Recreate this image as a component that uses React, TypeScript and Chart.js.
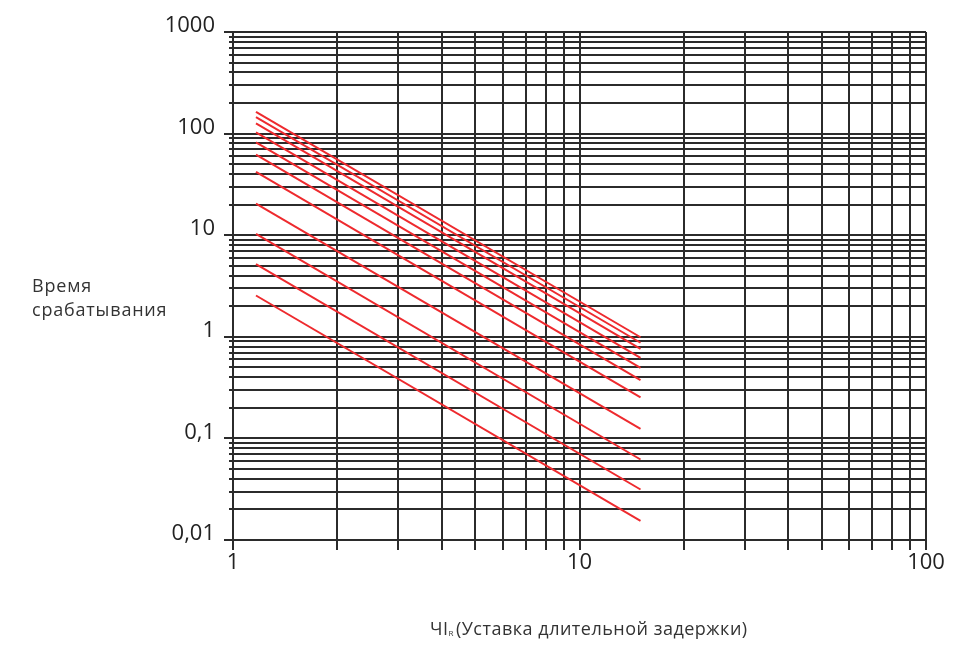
import React, { useEffect, useRef } from "react";
import { Chart, registerables } from "chart.js";

Chart.register(...registerables);

// Curve end points (straight lines on log-log axes)
const xStart = 1.165;
const xEnd = 15;
const startTimes = [164, 145, 126, 103, 82, 62, 42, 20.5, 10.3, 5.2, 2.55];
const endTimes = [0.99, 0.874, 0.76, 0.621, 0.494, 0.374, 0.253, 0.124, 0.062, 0.0314, 0.0154];

const yMajor = [0.01, 0.1, 1, 10, 100, 1000];
const yMajorLabels = ["0,01", "0,1", "1", "10", "100", "1000"];
const xMajor = [1, 10, 100];
const xMajorLabels = ["1", "10", "100"];
const multipliers = [1, 2, 3, 4, 5, 6, 7, 8, 9];

const yTitle = ["Время", "срабатывания"];
const xTitleMain = "ЧI";
const xTitleSub = "R";
const xTitleRest = "(Уставка длительной задержки)";

const GRID = "#2b2b2b";

function gridValues(majors: number[]) {
  const out: number[] = [];
  for (let i = 0; i < majors.length; i++) {
    if (i === majors.length - 1) {
      out.push(majors[i]);
    } else {
      for (const m of multipliers) out.push(majors[i] * m);
    }
  }
  return out;
}

function majorIndex(v: number, majors: number[]) {
  for (let i = 0; i < majors.length; i++) {
    if (Math.abs(v / majors[i] - 1) < 1e-6) return i;
  }
  return -1;
}

function labelFor(v: number, majors: number[], labels: string[]) {
  const i = majorIndex(v, majors);
  return i >= 0 ? labels[i] : "";
}

const titlePlugin = {
  id: "titles",
  afterDraw(chart: any) {
    const ctx = chart.ctx;
    ctx.save();
    // minor y ticks (short)
    const ys = chart.scales.y;
    const left = chart.chartArea.left;
    ctx.strokeStyle = GRID;
    ctx.lineWidth = 2;
    for (const t of ys.ticks) {
      if (majorIndex(t.value, yMajor) >= 0) continue;
      const py = Math.round(ys.getPixelForValue(t.value));
      ctx.beginPath();
      ctx.moveTo(left - 4, py);
      ctx.lineTo(left, py);
      ctx.stroke();
    }
    ctx.fillStyle = "#333";
    ctx.textBaseline = "middle";
    ctx.textAlign = "left";
    ctx.font = "18px 'Open Sans'";
    try { (ctx as any).letterSpacing = "0.8px"; } catch (e) {}
    ctx.fillText(yTitle[0], 32, 287);
    ctx.fillText(yTitle[1], 32, 311);
    // x title
    let x = 430;
    const y = 630;
    try { (ctx as any).letterSpacing = "0.5px"; } catch (e) {}
    ctx.font = "18px 'Open Sans'";
    ctx.fillText(xTitleMain, x, y);
    x += ctx.measureText(xTitleMain).width;
    ctx.font = "8px 'Open Sans'";
    ctx.fillText(xTitleSub, x, y + 4);
    x += ctx.measureText(xTitleSub).width + 2;
    ctx.font = "18px 'Open Sans'";
    ctx.fillText(xTitleRest, x, y);
    ctx.restore();
  },
};

export default function App() {
  const ref = useRef<HTMLCanvasElement | null>(null);
  useEffect(() => {
    if (!ref.current) return;
    const datasets = startTimes.map((s, i) => ({
      label: "curve " + (i + 1),
      data: [
        { x: xStart, y: s },
        { x: xEnd, y: endTimes[i] },
      ],
      borderColor: "#ee2a2e",
      backgroundColor: "#ee2a2e",
      borderWidth: 2,
      pointRadius: 0,
      fill: false,
    }));
    const yGrid = gridValues(yMajor);
    const xGrid = gridValues(xMajor);
    const chart = new Chart(ref.current, {
      type: "line",
      data: { datasets },
      plugins: [titlePlugin],
      options: {
        animation: false,
        responsive: false,
        maintainAspectRatio: false,
        layout: { padding: { left: 0, top: 32, right: 40, bottom: 0 } },
        plugins: { legend: { display: false }, tooltip: { enabled: false }, title: { display: false } },
        scales: {
          x: {
            type: "logarithmic",
            min: 1,
            max: 100,
            afterBuildTicks: (scale: any) => {
              scale.ticks = xGrid.map((v) => ({ value: v }));
            },
            afterFit: (scale: any) => {
              scale.height = 106;
            },
            border: { display: false },
            grid: {
              color: GRID,
              lineWidth: 2,
              tickLength: 10,
              tickColor: GRID,
              tickWidth: 2,
            },
            ticks: {
              autoSkip: false,
              maxRotation: 0,
              padding: 0,
              color: "#222",
              font: { family: "'Open Sans'", size: 22 },
              callback: (v: any) => labelFor(Number(v), xMajor, xMajorLabels),
            },
          },
          y: {
            type: "logarithmic",
            min: 0.01,
            max: 1000,
            afterBuildTicks: (scale: any) => {
              scale.ticks = yGrid.map((v) => ({ value: v }));
            },
            afterFit: (scale: any) => {
              scale.width = 233;
            },
            border: { display: false },
            grid: {
              color: GRID,
              lineWidth: 2,
              tickLength: 9,
              tickColor: (c: any) =>
                c.tick && majorIndex(c.tick.value, yMajor) >= 0 ? GRID : "rgba(0,0,0,0)",
              tickWidth: 2,
            },
            ticks: {
              autoSkip: false,
              padding: 9,
              labelOffset: -6,
              color: "#222",
              font: { family: "'Open Sans'", size: 22 },
              callback: (v: any) => labelFor(Number(v), yMajor, yMajorLabels),
            },
          },
        },
      },
    });
    return () => chart.destroy();
  }, []);
  return (
    <div style={{ position: "absolute", left: 0, top: 0, width: 966, height: 646, background: "#fff" }}>
      <canvas ref={ref} width={966} height={646} style={{ display: "block" }} />
    </div>
  );
}
